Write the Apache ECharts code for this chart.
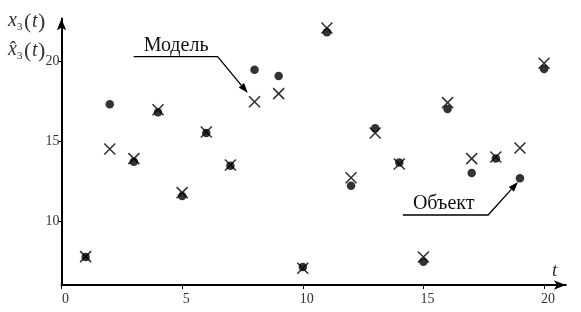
<!DOCTYPE html>
<html><head><meta charset="utf-8">
<script src="https://cdn.jsdelivr.net/npm/echarts@6/dist/echarts.min.js"></script>
<style>html,body{margin:0;padding:0;background:#fff}#c{width:581px;height:312px}</style>
</head><body><div id="c"></div>
<script>
// ---- data ----
const tValues = [1,2,3,4,5,6,7,8,9,10,11,12,13,14,15,16,17,18,19,20];
const objectValues = [7.75,17.3,13.7,16.8,11.56,15.5,13.45,19.45,19.06,7.12,21.8,12.2,15.8,13.65,7.45,17.0,13.0,13.9,12.67,19.5];
const modelValues  = [7.77,14.5,13.9,16.95,11.77,15.56,13.5,17.45,17.96,7.05,22.06,12.7,15.5,13.56,7.75,17.4,13.9,14.0,14.56,19.86];
const xTickValues = [0,5,10,15,20];
const yTickValues = [10,15,20];
const modelLabel = 'Модель';
const objectLabel = 'Объект';
// annotation anchors in data coords: [underline start, underline end, arrow tip]
const modelAnno = [[2.99,20.27],[6.47,20.27],[7.72,18.0]];
const objectAnno = [[14.15,10.375],[17.68,10.375],[18.92,12.44]];

const serif = '"Liberation Serif","DejaVu Serif",serif';
const chart = echarts.init(document.getElementById('c'), null, {renderer:'canvas'});
const option = {
  animation:false,
  backgroundColor:'#fff',
  grid:{left:61.5, right:15.2, top:18.6, bottom:27, containLabel:false},
  xAxis:{type:'value', min:0, max:20.9,
    axisLine:{onZero:false, lineStyle:{color:'#000', width:2}, symbol:['none','arrow'], symbolSize:[7,12]},
    axisTick:{customValues:xTickValues, length:4, lineStyle:{color:'#000', width:1}},
    axisLabel:{customValues:xTickValues, fontFamily:serif, fontSize:14, color:'#333', margin:7, padding:[0,0,0,8]},
    splitLine:{show:false}},
  yAxis:{type:'value', min:6, max:22.65,
    axisLine:{onZero:false, lineStyle:{color:'#000', width:2}, symbol:['none','arrow'], symbolSize:[7,12]},
    axisTick:{customValues:yTickValues, length:3, lineStyle:{color:'#000', width:1}},
    axisLabel:{customValues:yTickValues, fontFamily:serif, fontSize:14, color:'#333', margin:2, padding:[8,0,0,0]},
    splitLine:{show:false}},
  series:[
    {name:'model', type:'scatter', data:tValues.map((t,i)=>[t,modelValues[i]]),
     symbol:'path://M0,0L10,10M10,0L0,10', symbolSize:11,
     itemStyle:{color:'transparent', borderColor:'#000', borderWidth:1.6}, z:2},
    {name:'object', type:'scatter', data:tValues.map((t,i)=>[t,objectValues[i]]),
     symbol:'circle', symbolSize:8.5, itemStyle:{color:'#000'}, z:3}
  ]
};
chart.setOption(option);

function px(p){ return chart.convertToPixel({gridIndex:0}, p); }
function annotation(anchors, label){
  const a = px(anchors[0]), b = px(anchors[1]), c = px(anchors[2]);
  const dx = c[0]-b[0], dy = c[1]-b[1], L = Math.hypot(dx,dy);
  const ux = dx/L, uy = dy/L, hl = 10, hw = 3.5;
  const bx = c[0]-ux*hl, by = c[1]-uy*hl;
  const els = [
    {type:'polyline', shape:{points:[a,b,[bx,by]]}, style:{stroke:'#000', lineWidth:1.3, fill:null}},
    {type:'polygon', shape:{points:[c,[bx-uy*hw, by+ux*hw],[bx+uy*hw, by-ux*hw]]}, style:{fill:'#000'}},
    {type:'text', x:a[0]+10, y:a[1]-1, style:{text:label, font:'20px '+serif, fill:'#111', verticalAlign:'bottom', align:'left'}}
  ];
  return els;
}
const ital = (s,x,y,size)=>({type:'text', x:x, y:y, style:{text:s, font:'italic '+size+'px '+serif, fill:'#333', verticalAlign:'middle', align:'left'}});
const up = (s,x,y,size)=>({type:'text', x:x, y:y, style:{text:s, font:size+'px '+serif, fill:'#333', verticalAlign:'middle', align:'left'}});
const graphics = [].concat(
  annotation(modelAnno, modelLabel),
  annotation(objectAnno, objectLabel),
  [
    ital('x',8,21,20), up('3',17,27,11), up('(',24,22,22), ital('t',32,22,20), up(')',38,22,22),
    ital('x\u0302',8,50,20), up('3',17,56,11), up('(',24,51,22), ital('t',32,51,20), up(')',38,51,22),
    ital('t',552,271,19)
  ]
);
chart.setOption({graphic:graphics});
</script></body></html>
